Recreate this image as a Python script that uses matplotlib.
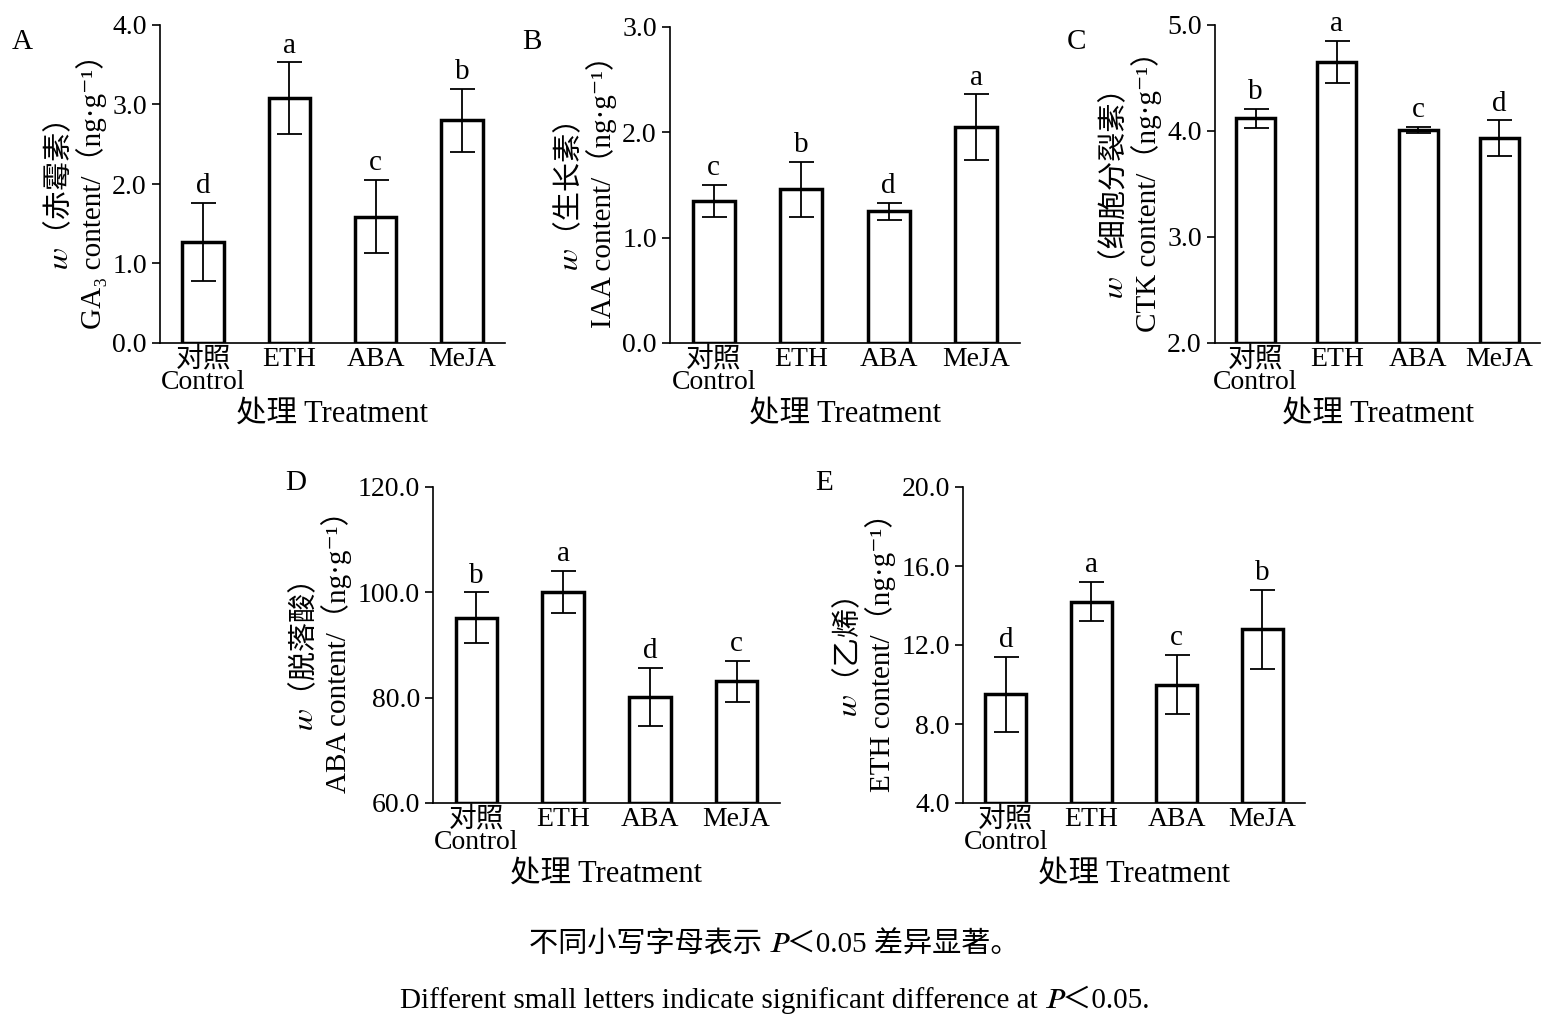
import matplotlib
matplotlib.use('Agg')
import matplotlib.pyplot as plt

plt.rcParams['font.family'] = ['Liberation Serif', 'Noto Sans CJK SC', 'STIXGeneral', 'DejaVu Sans']
plt.rcParams['font.size'] = 19

cats = ['对照\nControl', 'ETH', 'ABA', 'MeJA']

ga3 = [1.27, 3.08, 1.59, 2.80]
ga3_err = [0.49, 0.45, 0.46, 0.40]
ga3_let = ['d', 'a', 'c', 'b']

iaa = [1.35, 1.46, 1.25, 2.05]
iaa_err = [0.15, 0.26, 0.08, 0.31]
iaa_let = ['c', 'b', 'd', 'a']

ctk = [4.12, 4.65, 4.01, 3.93]
ctk_err = [0.09, 0.20, 0.03, 0.17]
ctk_let = ['b', 'a', 'c', 'd']

aba = [95.2, 100.1, 80.1, 83.1]
aba_err = [4.8, 4.0, 5.5, 3.9]
aba_let = ['b', 'a', 'd', 'c']

eth = [9.5, 14.2, 10.0, 12.8]
eth_err = [1.9, 1.0, 1.5, 2.0]
eth_let = ['d', 'a', 'c', 'b']

W, H = 1549, 1023
fig = plt.figure(figsize=(W / 100, H / 100), dpi=100)


def px_axes(l, t, r, b):
    return fig.add_axes([l / W, 1 - b / H, (r - l) / W, (b - t) / H])


unit = '（ng·g⁻¹）'
panels = [
    ('A', (160, 25, 505, 343), ga3, ga3_err, ga3_let, (0, 4), [0, 1, 2, 3, 4], '赤霉素', 'GA₃ content/' + unit),
    ('B', (670, 27, 1020, 343), iaa, iaa_err, iaa_let, (0, 3), [0, 1, 2, 3], '生长素', 'IAA content/' + unit),
    ('C', (1215, 25, 1540, 343), ctk, ctk_err, ctk_let, (2, 5), [2, 3, 4, 5], '细胞分裂素', 'CTK content/' + unit),
    ('D', (433, 487, 780, 803), aba, aba_err, aba_let, (60, 120), [60, 80, 100, 120], '脱落酸', 'ABA content/' + unit),
    ('E', (963, 487, 1305, 803), eth, eth_err, eth_let, (4, 20), [4, 8, 12, 16, 20], '乙烯', 'ETH content/' + unit),
]

for name, box, vals, errs, lets, ylim, ticks, cn, en in panels:
    ax = px_axes(*box)
    x = range(len(cats))
    ax.bar(x, [v - ylim[0] for v in vals], bottom=ylim[0], width=0.48,
           color='white', edgecolor='black', linewidth=2.5,
           yerr=errs, capsize=9, error_kw=dict(elinewidth=1.3, capthick=1.3))
    span = ylim[1] - ylim[0]
    for i in x:
        ax.text(i, vals[i] + errs[i] + span * 0.012, lets[i], ha='center', va='bottom', fontsize=21)
    ax.set_xlim(-0.5, 3.5)
    ax.set_ylim(*ylim)
    ax.set_yticks(ticks)
    ax.set_yticklabels(['%.1f' % t for t in ticks])
    ax.set_xticks(list(x))
    ax.set_xticklabels(cats, linespacing=0.8)
    ax.tick_params(axis='x', length=0, pad=3)
    ax.tick_params(axis='y', direction='out', length=6, width=1.2, labelsize=20)
    ax.tick_params(axis='x', labelsize=20)
    for s in ['top', 'right']:
        ax.spines[s].set_visible(False)
    for s in ['left', 'bottom']:
        ax.spines[s].set_linewidth(1.2)
    ax.set_xlabel('处理 Treatment', fontsize=22, labelpad=4)
    ax.set_ylabel('𝑤（' + cn + '）\n' + en, fontsize=21, linespacing=1.15)
    fig.text((box[0] - 148) / W, 1 - 42 / H if box[1] < 100 else 1 - 483 / H, name,
             fontsize=21, ha='left', va='center')

fig.text(0.5, 1 - 945 / H, '不同小写字母表示 𝑃＜0.05 差异显著。', ha='center', va='center', fontsize=21)
fig.text(0.5, 1 - 1000 / H, 'Different small letters indicate significant difference at 𝑃＜0.05.',
         ha='center', va='center', fontsize=21)

fig.savefig('out.png', dpi=100)
